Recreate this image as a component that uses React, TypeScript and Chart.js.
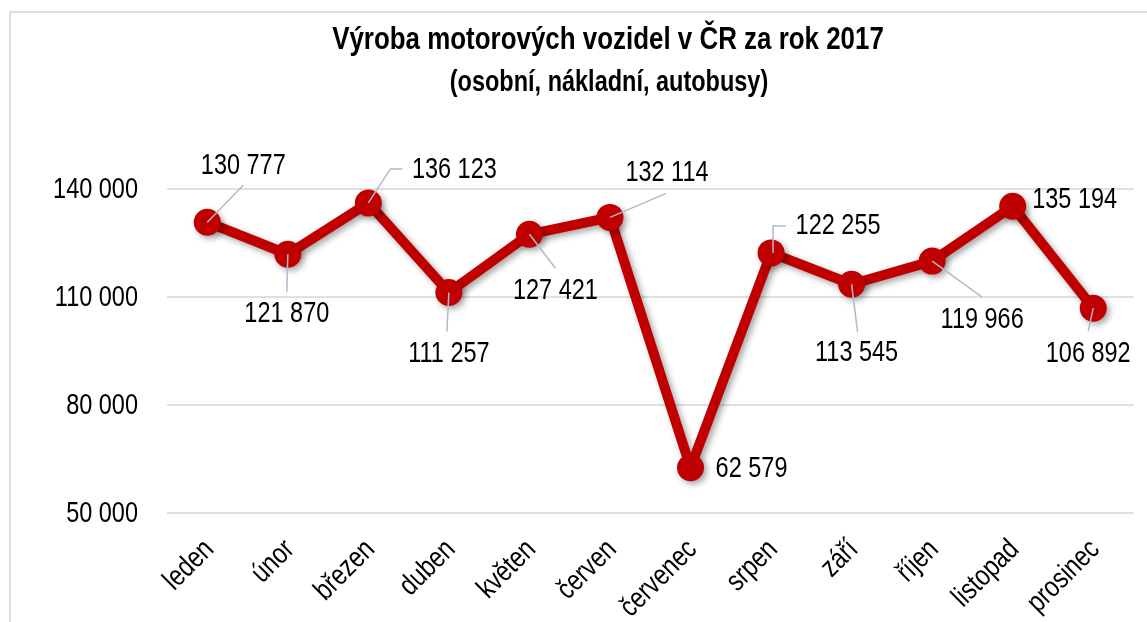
import { useEffect, useRef } from 'react';
import { Chart, registerables } from 'chart.js';

Chart.register(...registerables);

const months = ['leden', 'únor', 'březen', 'duben', 'květen', 'červen', 'červenec', 'srpen', 'září', 'říjen', 'listopad', 'prosinec'];
const production = [130777, 121870, 136123, 111257, 127421, 132114, 62579, 122255, 113545, 119966, 135194, 106892];
const yTicks = [50000, 80000, 110000, 140000];
const titleText = 'Výroba motorových vozidel v ČR za rok 2017';
const subtitleText = '(osobní, nákladní, autobusy)';

// label placement relative to its point (px): [dx, dy] of the label centre
const labelOffsets: number[][] = [
  [36, -57], [-1, 59], [86, -34], [0, 61], [26, 56], [57, -45],
  [61, 0], [67, -28], [5, 68], [50, 58], [62, -7], [-5, 45],
];
// leader line polyline relative to its point (px); empty = no leader
const leaderPaths: number[][][] = [
  [[0, 0], [36, -37]],
  [[0, 0], [-1, 38]],
  [[0, 0], [22, -34], [34, -34]],
  [[0, 0], [-2, 39]],
  [[0, 0], [26, 34]],
  [[0, 0], [56, -24]],
  [],
  [[2, 0], [2, -27], [15, -27]],
  [[0, 0], [6, 48]],
  [[0, 0], [50, 36]],
  [],
  [[0, 0], [-5, 23]],
];

const FONT = '"Liberation Sans Narrow", "Arial Narrow", "Liberation Sans", Arial, sans-serif';
const NARROW = 0.81; // horizontal condensing to imitate a narrow face
const RED = '#C00000';

const fmt = (n: number) => String(n).replace(/\B(?=(\d{3})+(?!\d))/g, ' ');

function drawText(ctx: CanvasRenderingContext2D, text: string, x: number, y: number, font: string, align: CanvasTextAlign, rot = 0) {
  ctx.save();
  ctx.translate(x, y);
  if (rot) ctx.rotate(rot);
  ctx.scale(NARROW, 1);
  ctx.font = font;
  ctx.fillStyle = '#000';
  ctx.textAlign = align;
  ctx.textBaseline = 'middle';
  ctx.fillText(text, 0, 0);
  ctx.restore();
}

const textPlugin = {
  id: 'customText',
  afterDraw(chart: any) {
    const ctx = chart.ctx;
    drawText(ctx, titleText, 608, 40, `bold 32px ${FONT}`, 'center');
    drawText(ctx, subtitleText, 609, 83, `bold 29px ${FONT}`, 'center');
    const ys = chart.scales.y;
    yTicks.forEach((v) => {
      drawText(ctx, fmt(v), 138, ys.getPixelForValue(v) + 1, `29px ${FONT}`, 'right');
    });
    const xs = chart.scales.x;
    months.forEach((m, i) => {
      const x = xs.getPixelForTick(i);
      drawText(ctx, m, x + 2, 545, `29px ${FONT}`, 'right', -Math.PI / 4);
    });
  },
};

const shadowPlugin = {
  id: 'lineShadow',
  beforeDatasetsDraw(chart: any) {
    const ctx = chart.ctx;
    ctx.save();
    ctx.shadowColor = 'rgba(0,0,0,0.35)';
    ctx.shadowBlur = 6;
    ctx.shadowOffsetX = 3;
    ctx.shadowOffsetY = 3;
  },
  afterDatasetsDraw(chart: any) {
    chart.ctx.restore();
  },
};

const labelPlugin = {
  id: 'pointLabels',
  afterDatasetsDraw(chart: any) {
    const ctx = chart.ctx;
    const meta = chart.getDatasetMeta(0);
    ctx.save();
    meta.data.forEach((pt: any, i: number) => {
      const path = leaderPaths[i];
      if (path.length) {
        ctx.beginPath();
        ctx.strokeStyle = '#AEBACB';
        ctx.lineWidth = 1.5;
        path.forEach(([dx, dy], k) => {
          if (k === 0) ctx.moveTo(pt.x + dx, pt.y + dy);
          else ctx.lineTo(pt.x + dx, pt.y + dy);
        });
        ctx.stroke();
      }
    });
    ctx.restore();
    meta.data.forEach((pt: any, i: number) => {
      const [dx, dy] = labelOffsets[i];
      drawText(ctx, fmt(production[i]), pt.x + dx, pt.y + dy + 1, `29px ${FONT}`, 'center');
    });
  },
};

export default function App() {
  const ref = useRef<HTMLCanvasElement>(null);
  useEffect(() => {
    if (!ref.current) return;
    const chart = new Chart(ref.current, {
      type: 'line',
      data: {
        labels: months,
        datasets: [
          {
            data: production,
            borderColor: RED,
            backgroundColor: RED,
            borderWidth: 10,
            pointRadius: 13.5,
            pointHoverRadius: 13.5,
            pointBorderWidth: 0,
            pointBackgroundColor: RED,
            tension: 0,
            borderJoinStyle: 'round',
            borderCapStyle: 'round',
          },
        ],
      },
      options: {
        responsive: false,
        animation: false,
        layout: { padding: { left: 0, right: 7, top: 189, bottom: 0 } },
        plugins: { legend: { display: false }, tooltip: { enabled: false }, title: { display: false } },
        scales: {
          x: {
            offset: true,
            grid: { display: false },
            border: { display: false },
            ticks: { display: false, autoSkip: false },
            afterFit: (s: any) => { s.height = 109; },
          },
          y: {
            min: 50000,
            max: 140000,
            grid: { color: '#DCE1E8', lineWidth: 2, drawTicks: false },
            border: { display: false },
            afterBuildTicks: (s: any) => { s.ticks = yTicks.map((v) => ({ value: v })); },
            ticks: { display: false },
            afterFit: (s: any) => { s.width = 167; },
          },
        },
      },
      plugins: [shadowPlugin, labelPlugin, textPlugin],
    });
    return () => chart.destroy();
  }, []);
  return (
    <div style={{ position: 'fixed', left: 0, top: 0, width: 1147, height: 622, overflow: 'hidden', background: '#fff' }}>
      <div style={{ position: 'absolute', left: 9, top: 11, width: 1300, height: 800, border: '2px solid #DCE1E8' }} />
      <canvas ref={ref} width={1147} height={622} style={{ position: 'absolute', left: 0, top: 0 }} />
    </div>
  );
}
